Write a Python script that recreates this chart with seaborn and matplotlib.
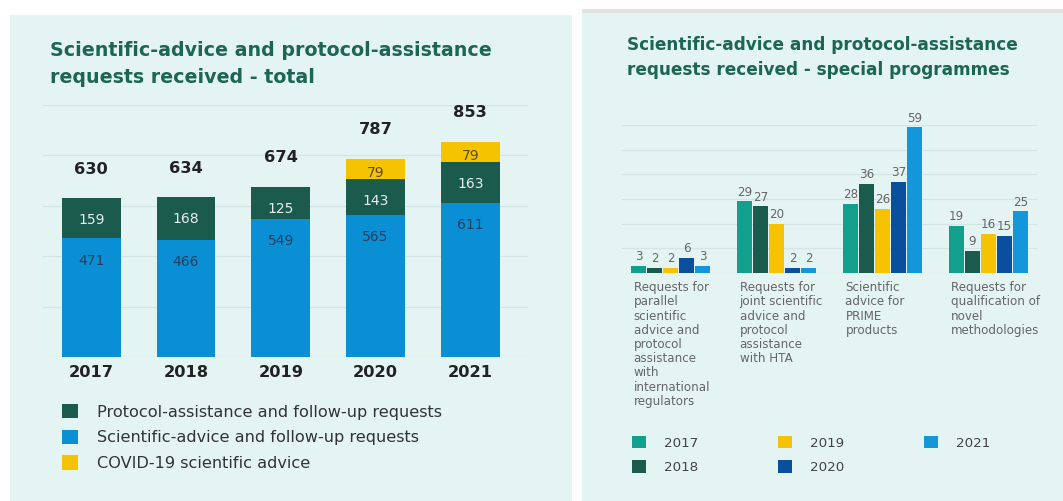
import matplotlib
matplotlib.use("Agg")
import matplotlib.pyplot as plt
from matplotlib.patches import Rectangle, Patch
import matplotlib.transforms as mtrans
import seaborn as sns
import pandas as pd
import numpy as np

# ---------------- data ----------------
years = ["2017", "2018", "2019", "2020", "2021"]
scientific_advice = [471, 466, 549, 565, 611]
protocol_assistance = [159, 168, 125, 143, 163]
covid_advice = [0, 0, 0, 79, 79]
totals = [630, 634, 674, 787, 853]

programmes = [
    "Requests for\nparallel\nscientific\nadvice and\nprotocol\nassistance\nwith\ninternational\nregulators",
    "Requests for\njoint scientific\nadvice and\nprotocol\nassistance\nwith HTA",
    "Scientific\nadvice for\nPRIME\nproducts",
    "Requests for\nqualification of\nnovel\nmethodologies",
]
prog_2017 = [3, 29, 28, 19]
prog_2018 = [2, 27, 36, 9]
prog_2019 = [2, 20, 26, 16]
prog_2020 = [6, 2, 37, 15]
prog_2021 = [3, 2, 59, 25]

# ---------------- style ----------------
sns.set_theme(style="white")
plt.rcParams["font.family"] = ["DejaVu Sans"]

BG = "#e4f4f2"
GRID = "#d2e5e3"
TITLE = "#1d6654"
DGREEN = "#1b5b4d"
BLUE = "#0b8fd4"
YELLOW = "#f6c300"
year_colors = ["#12a08c", "#1b5b4d", "#f7c300", "#0a4f9e", "#1496da"]

W, H = 1063, 501
fig = plt.figure(figsize=(W / 100, H / 100), dpi=100)
fig.patch.set_facecolor("white")

def frect(x0, y0, x1, y1, color):
    fig.patches.append(Rectangle((x0 / W, 1 - y1 / H), (x1 - x0) / W, (y1 - y0) / H,
                                 transform=fig.transFigure, facecolor=color,
                                 edgecolor="none", zorder=-10))

frect(10, 15, 572, 501, BG)
frect(582, 9, 1063, 13, "#e2e2e2")
frect(582, 13, 1063, 501, BG)

def ax_rect(x0, y0, x1, y1):
    return [x0 / W, 1 - y1 / H, (x1 - x0) / W, (y1 - y0) / H]

# ---------------- left: stacked totals ----------------
ax1 = fig.add_axes(ax_rect(43, 105, 528, 357))
ax1.set_facecolor("none")
ax1.set_zorder(2)

df1 = pd.DataFrame({
    "year": years,
    "sci": scientific_advice,
    "prot": protocol_assistance,
    "covid": covid_advice,
})
df1["lvl2"] = df1["sci"] + df1["prot"]
df1["lvl3"] = df1["lvl2"] + df1["covid"]

bar_kw = dict(saturation=1, width=0.62, ax=ax1, zorder=3, linewidth=0, edgecolor="none")
sns.barplot(data=df1, x="year", y="lvl3", color=YELLOW, **bar_kw)
sns.barplot(data=df1, x="year", y="lvl2", color=DGREEN, **bar_kw)
sns.barplot(data=df1, x="year", y="sci", color=BLUE, **bar_kw)

c_cov, c_prot, c_sci = ax1.containers[0], ax1.containers[1], ax1.containers[2]

lab = ax1.bar_label(c_sci, labels=[str(v) for v in scientific_advice], padding=-16,
                    fontsize=10, color="#22405e")
for t in lab:
    t.set_va("center")
lab = ax1.bar_label(c_prot, labels=[str(v) for v in protocol_assistance], padding=-16,
                    fontsize=10, color="#e8eeec")
for t in lab:
    t.set_va("center")
lab = ax1.bar_label(c_cov, labels=[str(v) if v else "" for v in covid_advice], padding=-10,
                    fontsize=10, color="#5c4c14")
for t in lab:
    t.set_va("center")
lab = ax1.bar_label(c_cov, labels=[str(v) for v in totals], padding=21,
                    fontsize=11.7, fontweight="bold", color="#222222")
for t in lab:
    t.set_va("center")

ax1.set_ylim(0, 1000)
ax1.set_xlim(-0.51, 4.61)
ax1.set_yticks(np.arange(0, 1001, 200))
ax1.set_yticklabels([])
ax1.yaxis.grid(True, color=GRID, linewidth=0.9)
ax1.set_axisbelow(True)
ax1.tick_params(axis="both", length=0)
ax1.tick_params(axis="x", pad=6, labelsize=11.7, labelcolor="#222222")
for t in ax1.get_xticklabels():
    t.set_fontweight("bold")
ax1.set_xlabel("")
ax1.set_ylabel("")
sns.despine(ax=ax1, left=True, bottom=True)

fig.text(50 / W, 1 - 64 / H, "Scientific-advice and protocol-assistance\nrequests received - total",
         fontsize=13.7, fontweight="bold", color=TITLE, ha="left", va="center", linespacing=1.47)

leg1 = fig.legend(handles=[Patch(facecolor=DGREEN, edgecolor="none"),
                           Patch(facecolor=BLUE, edgecolor="none"),
                           Patch(facecolor=YELLOW, edgecolor="none")],
                  labels=["Protocol-assistance and follow-up requests",
                          "Scientific-advice and follow-up requests",
                          "COVID-19 scientific advice"],
                  loc="upper left", bbox_to_anchor=(62 / W, 1 - 404 / H),
                  frameon=False, fontsize=11.6, handlelength=1.0, handleheight=1.0,
                  handletextpad=1.2, labelspacing=0.62, borderpad=0, borderaxespad=0)
for t in leg1.get_texts():
    t.set_color("#333333")

# ---------------- right: special programmes ----------------
ax2 = fig.add_axes(ax_rect(622, 125, 1037, 273))
ax2.set_facecolor("none")
ax2.set_zorder(2)

rows = []
for yr, vals in zip(years, [prog_2017, prog_2018, prog_2019, prog_2020, prog_2021]):
    for p, v in zip(programmes, vals):
        rows.append({"programme": p, "year": yr, "value": v})
df2 = pd.DataFrame(rows)

sns.barplot(data=df2, x="programme", y="value", hue="year", order=programmes,
            hue_order=years, palette=year_colors, saturation=1, width=0.76, gap=0.06,
            linewidth=0, edgecolor="none", ax=ax2, zorder=3)
if ax2.get_legend() is not None:
    ax2.get_legend().remove()

for cont in ax2.containers:
    ax2.bar_label(cont, padding=2, fontsize=8.6, color="#666666")

ax2.set_ylim(0, 60)
ax2.set_xlim(-0.46, 3.46)
ax2.set_yticks(np.arange(0, 61, 10))
ax2.set_yticklabels([])
ax2.set_xticks([])
ax2.yaxis.grid(True, color=GRID, linewidth=0.9)
ax2.set_axisbelow(True)
ax2.tick_params(axis="both", length=0)
ax2.set_xlabel("")
ax2.set_ylabel("")
sns.despine(ax=ax2, left=True, bottom=True)

btr = mtrans.blended_transform_factory(ax2.transData, ax2.transAxes)
for i, p in enumerate(programmes):
    ax2.text(i - 0.35, -0.055, p, transform=btr, ha="left", va="top",
             fontsize=8.6, color="#666666", linespacing=1.12)

fig.text(627 / W, 1 - 57.5 / H, "Scientific-advice and protocol-assistance\nrequests received - special programmes",
         fontsize=12.2, fontweight="bold", color=TITLE, ha="left", va="center", linespacing=1.47)

leg2 = fig.legend(handles=[Patch(facecolor=c, edgecolor="none") for c in year_colors],
                  labels=years, loc="upper left",
                  bbox_to_anchor=(632 / W, 1 - 436 / H), ncol=3, frameon=False,
                  fontsize=9.7, handlelength=1.05, handleheight=1.05, handletextpad=1.33,
                  labelspacing=0.78, columnspacing=5.9, borderpad=0, borderaxespad=0)
for t in leg2.get_texts():
    t.set_color("#444444")

fig.savefig("out.png", dpi=100, facecolor="white")
